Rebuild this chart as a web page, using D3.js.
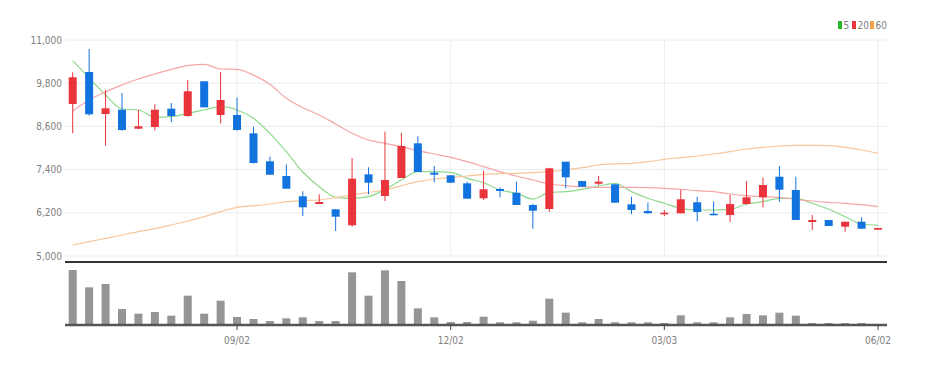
<!DOCTYPE html>
<html lang="en">
<head>
<meta charset="UTF-8">
<title>Weekly candles</title>
<script src="https://d3js.org/d3.v7.min.js"></script>
<style>
  body { margin: 0; background: #fff; }
  text { font-family: "Liberation Sans Narrow", "DejaVu Sans Condensed", sans-serif; fill: #808080; }
</style>
</head>
<body>
<svg id="chart" width="925" height="365"></svg>
<script>
// weekly OHLC
const open  = [9222,10111,8944,9064,8536,8583,9092,8889,9853,8917,8917,8408,7630,7222,6658,6444,6297,5853,7269,6667,
               7167,8130,7314,7241,7019,6603,6861,6758,6417,6306,7620,7083,7008,6992,6436,6250,6158,6186,6492,6175,
               6139,6444,6630,7203,6833,5944,6000,5814,5953,5731];
const high  = [10103,10750,9611,9528,9055,9214,9250,9889,9853,10111,9397,8592,7758,7547,6797,6714,6297,7722,7464,8453,
               8417,8325,7500,7241,7064,7361,6908,7064,6444,7453,7620,7083,7222,6992,6647,6481,6278,6833,6647,6519,
               6694,7083,7175,7500,7203,6139,6000,5953,6075,5778];
const low   = [8408,8900,8064,8480,8520,8492,8714,8870,9130,8686,8480,7570,7258,6869,6111,6444,5694,5814,6714,6528,
               7167,7333,7047,7036,6592,6556,6631,6417,5758,6231,6880,6925,6964,6481,6158,6186,6111,6186,5963,6131,
               5944,6425,6353,6508,6000,5722,5833,5675,5758,5731];
const close = [9964,8936,9103,8500,8603,9064,8889,9575,9130,9333,8500,7583,7258,6869,6353,6500,6092,7147,7036,7111,
               8056,7333,7258,7036,6592,6853,6806,6417,6258,7436,7186,6925,7064,6481,6278,6186,6203,6575,6222,6131,
               6444,6630,6972,6842,6000,6000,5833,5953,5758,5778];
const volume = [165,113,123,48,34,39,28,88,34,73,24,18,12,20,23,12,12,158,88,164,
                132,50,23,9,9,25,8,8,13,79,37,8,18,8,8,8,6,29,8,8,
                23,33,29,37,28,6,6,6,6,3];
const ma5  = [10425,9950,9472,9083,9056,8853,8870,8964,9056,9147,9056,8825,8408,7897,7333,6926,6630,6603,6647,6853,
              7111,7342,7342,7324,7158,7036,6833,6742,6583,6769,6787,6853,6944,7019,6787,6603,6464,6325,6278,6278,
              6297,6444,6508,6603,6603,6464,6297,6092,5889,5853];
const ma20 = [9028,9333,9564,9750,9917,10056,10186,10287,10325,10194,10186,10028,9769,9381,9120,8917,8667,8408,8222,8130,
              8037,7926,7833,7741,7620,7481,7342,7222,7111,7000,6953,6926,6908,6908,6908,6900,6880,6853,6815,6787,
              6722,6675,6648,6630,6575,6528,6492,6464,6425,6370];
const ma60 = [5306,5397,5490,5583,5675,5758,5861,5972,6092,6231,6353,6397,6444,6508,6536,6556,6619,6694,6769,6833,
              6953,7064,7139,7175,7222,7269,7286,7297,7315,7342,7389,7453,7528,7560,7575,7620,7686,7731,7778,7833,
              7897,7972,8019,8056,8075,8075,8065,8019,7944,7852];
const priceTicks = [5000, 6200, 7400, 8600, 9800, 11000];
const dateTickIdx = [10, 23, 36, 49];
const dateTickLabels = ["09/02", "12/02", "03/03", "06/02"];
const maNames = ["5", "20", "60"];

const svg = d3.select("#chart");
const left = 65, right = 887;
const up = "#e8343a", down = "#1273de";

const x = d3.scaleLinear().domain([0, open.length - 1]).range([72.7, 878]);
const y = d3.scaleLinear().domain([5000, 11000]).range([256, 40]);
const yv = d3.scaleLinear().domain([0, 165]).range([325, 270]);

// grid
svg.append("g").selectAll("line").data(priceTicks).join("line")
  .attr("x1", left).attr("x2", right)
  .attr("y1", d => y(d)).attr("y2", d => y(d))
  .attr("stroke", "#ececec");
svg.append("g").selectAll("line").data(dateTickIdx).join("line")
  .attr("x1", d => x(d)).attr("x2", d => x(d))
  .attr("y1", 40).attr("y2", 256)
  .attr("stroke", "#ececec");

// price labels
svg.append("g").selectAll("text").data(priceTicks).join("text")
  .attr("x", 62).attr("y", d => y(d) + 3.5)
  .attr("text-anchor", "end").attr("font-size", 10)
  .text(d => d3.format(",")(d));

// moving averages
const maColors = ["#8ed98e", "#f5a6a6", "#f9c69a"];
[ma5, ma20, ma60].forEach((s, k) => {
  svg.append("path").datum(s)
    .attr("fill", "none").attr("stroke", maColors[k]).attr("stroke-width", 1.2)
    .attr("d", d3.line().x((d, i) => x(i)).y(d => y(d)).curve(d3.curveMonotoneX));
});

// candles
const idx = d3.range(open.length);
const c = svg.append("g").selectAll("g").data(idx).join("g");
c.append("line")
  .attr("x1", i => x(i)).attr("x2", i => x(i))
  .attr("y1", i => y(high[i])).attr("y2", i => y(low[i]))
  .attr("stroke", i => close[i] >= open[i] ? up : down);
c.append("rect")
  .attr("x", i => x(i) - 4).attr("width", 8)
  .attr("y", i => y(Math.max(open[i], close[i])))
  .attr("height", i => Math.max(1.5, Math.abs(y(open[i]) - y(close[i]))))
  .attr("fill", i => close[i] >= open[i] ? up : down);

// panel separator
svg.append("line").attr("x1", left).attr("x2", right).attr("y1", 262).attr("y2", 262)
  .attr("stroke", "#333").attr("stroke-width", 2);

// volume
svg.append("g").selectAll("rect").data(idx).join("rect")
  .attr("x", i => x(i) - 4).attr("width", 8)
  .attr("y", i => yv(volume[i])).attr("height", i => yv(0) - yv(volume[i]))
  .attr("fill", "#959595");
svg.append("line").attr("x1", left).attr("x2", right).attr("y1", 325).attr("y2", 325)
  .attr("stroke", "#555").attr("stroke-width", 2.5);

const xt = svg.append("g").selectAll("g").data(dateTickIdx).join("g");
xt.append("line").attr("x1", d => x(d)).attr("x2", d => x(d))
  .attr("y1", 325).attr("y2", 330).attr("stroke", "#444");
xt.append("text").attr("x", d => x(d)).attr("y", 344)
  .attr("text-anchor", "middle").attr("font-size", 10)
  .text((d, i) => dateTickLabels[i]);

// legend
const legColors = ["#2bb52b", "#e8343a", "#f5a04a"];
const legX = [838, 852, 870];
const lg = svg.append("g").selectAll("g").data(maNames).join("g");
lg.append("rect").attr("x", (d, i) => legX[i]).attr("y", 21).attr("width", 4).attr("height", 8)
  .attr("fill", (d, i) => legColors[i]);
lg.append("text").attr("x", (d, i) => legX[i] + 5.5).attr("y", 29).attr("font-size", 10)
  .text(d => d);
</script>
</body>
</html>
